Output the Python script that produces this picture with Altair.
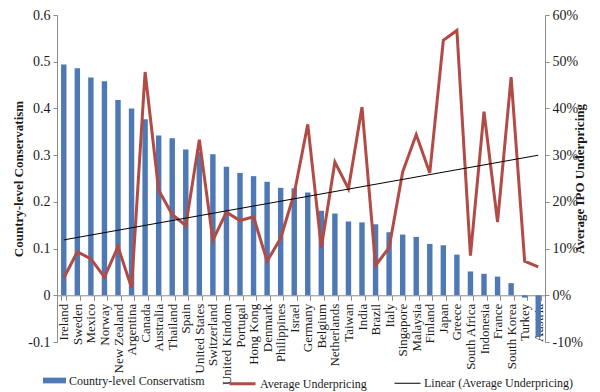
import altair as alt
import pandas as pd

countries = ["Ireland", "Sweden", "Mexico", "Norway", "New Zealand", "Argentina", "Canada",
             "Australia", "Thailand", "Spain", "United States", "Switzerland", "United Kindom",
             "Portugal", "Hong Kong", "Denmark", "Philippines", "Israel", "Germany", "Belgium",
             "Netherlands", "Taiwan", "India", "Brazil", "Italy", "Singapore", "Malaysia",
             "Finland", "Japan", "Greece", "South Africa", "Indonesia", "France", "South Korea",
             "Turkey", "Austria"]
conservatism = [0.494, 0.486, 0.466, 0.458, 0.418, 0.400, 0.377, 0.342, 0.336, 0.312, 0.306,
                0.302, 0.275, 0.262, 0.255, 0.243, 0.230, 0.229, 0.220, 0.181, 0.175, 0.158,
                0.156, 0.152, 0.135, 0.130, 0.125, 0.110, 0.107, 0.087, 0.051, 0.046, 0.040,
                0.026, -0.005, -0.089]
underpricing = [3.7, 9.3, 7.8, 3.9, 10.4, 1.6, 47.8, 22.5, 17.3, 14.9, 33.3, 11.8, 17.8, 16.0,
                16.8, 7.3, 12.2, 21.8, 36.6, 10.2, 28.5, 22.8, 40.3, 6.4, 10.2, 26.4, 34.4,
                26.2, 54.6, 56.7, 8.5, 39.3, 15.7, 46.7, 7.3, 6.1]

S_BAR = "Country-level Conservatism"
S_LINE = "Average Underpricing"
S_TREND = "Linear (Average Underpricing)"

BLUE = "#4E79B4"
RED = "#B24A46"
FONT = "Liberation Serif"
TXT = "#1a1a1a"
GRAY = "#8c8c8c"

H = 327

df = pd.DataFrame({
    "idx": list(range(len(countries))),
    "country": countries,
    "cons": conservatism,
    "under": underpricing,
})

x_scale = alt.Scale(domain=countries, paddingInner=0.6, paddingOuter=0.3)
x_axis = alt.Axis(title=None, labelAngle=270, offset=-H / 7, tickBand="extent",
                  tickSize=5, tickColor=GRAY, domainColor=GRAY, labelFont=FONT,
                  labelFontSize=13, labelColor=TXT, labelPadding=3, grid=False)

left_axis = alt.Axis(title="Country-level Conservatism", values=[-0.1, 0, 0.1, 0.2, 0.3, 0.4, 0.5, 0.6],
                     labelExpr="datum.value == 0 ? '0' : replace(format(datum.value, '.1f'), '\u2212', '-')",
                     tickSize=4, tickColor=GRAY, domainColor=GRAY, labelFont=FONT, labelFontSize=14,
                     labelColor=TXT, labelPadding=3, titleFont=FONT, titleFontSize=13,
                     titleFontWeight="bold", titleColor=TXT, titlePadding=2, grid=False)
right_axis = alt.Axis(title="Average IPO Underpricing", orient="right",
                      values=[-10, 0, 10, 20, 30, 40, 50, 60],
                      labelExpr="replace(format(datum.value, 'd'), '\u2212', '-') + '%'",
                      tickSize=4, tickColor=GRAY, domainColor=GRAY, labelFont=FONT, labelFontSize=14,
                      labelColor=TXT, labelPadding=3, titleFont=FONT, titleFontSize=13,
                      titleFontWeight="bold", titleColor=TXT, titlePadding=4, titleAngle=270,
                      grid=False)

base = alt.Chart(df)

bars = base.transform_calculate(series=f"'{S_BAR}'").mark_bar().encode(
    x=alt.X("country:N", scale=x_scale, axis=x_axis),
    y=alt.Y("cons:Q", scale=alt.Scale(domain=[-0.1, 0.6], nice=False, zero=False), axis=left_axis),
    fill=alt.Fill("series:N", scale=alt.Scale(domain=[S_BAR], range=[BLUE]),
                  legend=alt.Legend(title=None, orient="none", legendX=-14, legendY=354,
                                    symbolType="M-1,-0.25L1,-0.25L1,0.25L-1,0.25Z",
                                    symbolSize=529, symbolStrokeWidth=0, labelFont=FONT,
                                    labelFontSize=12, labelColor=TXT, labelOffset=3)),
)

stroke_scale = alt.Scale(domain=[S_LINE, S_TREND], range=[RED, "#000000"])
sw_scale = alt.Scale(domain=[S_LINE, S_TREND], range=[3, 1])
line_legend = alt.Legend(title=None, orient="none", legendX=171, legendY=354, direction="horizontal",
                         symbolType="stroke", symbolSize=676, labelFont=FONT, labelFontSize=12,
                         labelColor=TXT, labelOffset=3, columnPadding=25)
y_right = alt.Y("under:Q", scale=alt.Scale(domain=[-10, 60], nice=False, zero=False), axis=right_axis)

line = base.transform_calculate(series=f"'{S_LINE}'").mark_line().encode(
    x=alt.X("country:N", scale=x_scale, axis=x_axis),
    y=y_right,
    stroke=alt.Stroke("series:N", scale=stroke_scale, legend=line_legend),
    strokeWidth=alt.StrokeWidth("series:N", scale=sw_scale, legend=line_legend),
)

trend = base.transform_regression("idx", "under").transform_lookup(
    lookup="idx", from_=alt.LookupData(data=df, key="idx", fields=["country"])
).transform_calculate(series=f"'{S_TREND}'").mark_line().encode(
    x=alt.X("country:N", scale=x_scale, axis=x_axis),
    y=y_right,
    stroke=alt.Stroke("series:N", scale=stroke_scale, legend=line_legend),
    strokeWidth=alt.StrokeWidth("series:N", scale=sw_scale, legend=line_legend),
)

right = alt.layer(line, trend)

chart = alt.layer(bars, right).resolve_scale(y="independent").properties(
    width=488, height=H,
    autosize=alt.AutoSizeParams(type="none"),
    padding={"left": 49, "top": 7, "right": 47, "bottom": 50},
    background="white",
).configure_view(strokeWidth=0)

chart.save("out.html", embed_options={"renderer": "svg", "actions": False})
